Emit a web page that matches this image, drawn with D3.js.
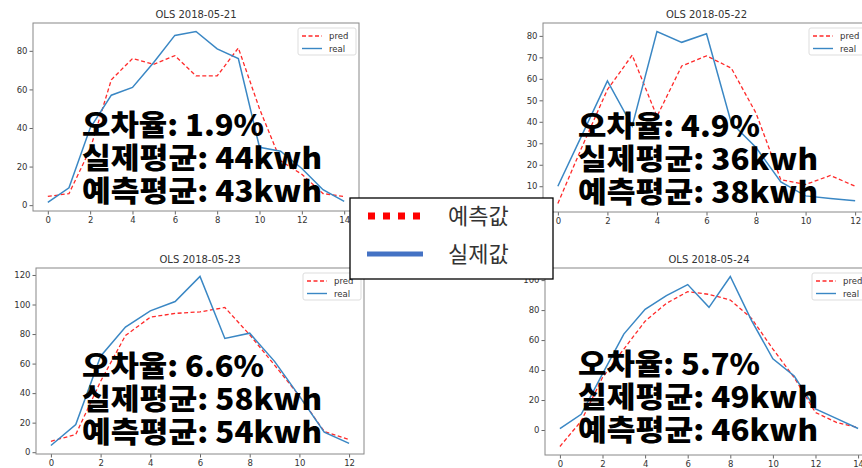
<!DOCTYPE html>
<html>
<head>
<meta charset="utf-8">
<script src="https://cdn.jsdelivr.net/npm/d3@7"></script>
<style>
  body { margin: 0; background: #fff; }
  svg { display: block; }
</style>
</head>
<body>
<svg width="862" height="468"></svg>
<script>
// ---- data ----
const titles = ['OLS 2018-05-21', 'OLS 2018-05-22', 'OLS 2018-05-23', 'OLS 2018-05-24'];

const real21 = [1.4, 9, 40, 57, 61, 74, 88, 90, 81, 76, 30, 28, 19, 8, 2];
const pred21 = [4.5, 6, 29, 65, 76, 73, 77.5, 67, 67, 81.5, 50, 23, 16, 6, 4.5];

const real22 = [10, 34.5, 59, 38, 82, 77, 81, 39.5, 28, 12, 5.5, 4.3, 3.2];
const pred22 = [2, 29, 55, 71, 42.5, 66, 70.7, 65, 44, 13, 10.8, 15, 10];

const real23 = [4.5, 18.7, 65, 84.7, 95.7, 102, 119, 77, 80.6, 61.5, 38, 13.5, 6];
const pred23 = [7.4, 12, 48, 79, 91.4, 94, 95, 98, 79.5, 59, 38, 14, 8.5];

const real24 = [1, 10.5, 37.4, 64, 80.5, 89.6, 97, 81.8, 102.4, 73, 47.5, 36, 14, 7.6, 1];
const pred24 = [-11, 6, 35, 54, 72.6, 84.5, 92.3, 90.5, 86.7, 74.4, 54, 35, 11.7, 5, 1.6];

const errRates = ['1.9%', '4.9%', '6.6%', '5.7%'];
const realAvg = [44, 36, 58, 49];
const predAvg = [43, 38, 54, 46];

const seriesNames = ['pred', 'real'];
const legendLabels = ['예측값', '실제값'];

// ---- layout ----
const svg = d3.select('svg');

const panels = [
  { real: real21, pred: pred21, left: 33,  top: 23,  w: 326, h: 188, yTicks: 5, tx: 82,  ty: 136 },
  { real: real22, pred: pred22, left: 543, top: 23,  w: 327, h: 189, yTicks: 10, tx: 578, ty: 137 },
  { real: real23, pred: pred23, left: 36,  top: 268, w: 328, h: 186, yTicks: 6, tx: 82,  ty: 377 },
  { real: real24, pred: pred24, left: 545, top: 268, w: 328, h: 187, yTicks: 5, tx: 578, ty: 375 }
];

const realColor = '#3a87c4';
const predColor = '#ff2a2a';
const tickFont = 'DejaVu Sans, sans-serif';
const noteWidths = [182, 240, 240];

const drawPanel = (p, i) => {
  const n = p.real.length - 1;
  const x = d3.scaleLinear().domain([-0.05 * n, n * 1.05]).range([0, p.w]);
  const all = p.real.concat(p.pred);
  const [lo, hi] = d3.extent(all);
  const pad = (hi - lo) * 0.05;
  const y = d3.scaleLinear().domain([lo - pad, hi + pad]).range([p.h, 0]);

  const g = svg.append('g').attr('transform', `translate(${p.left},${p.top})`);

  g.append('text')
    .attr('x', p.w / 2)
    .attr('y', -5)
    .attr('text-anchor', 'middle')
    .attr('font-family', tickFont)
    .attr('font-size', 10)
    .attr('fill', '#333')
    .text(titles[i]);

  const xAxis = g.append('g')
    .attr('transform', `translate(0,${p.h})`)
    .call(d3.axisBottom(x).tickValues(d3.range(0, n + 1, 2)).tickSize(3.5).tickPadding(2));
  const yAxis = g.append('g')
    .call(d3.axisLeft(y).ticks(p.yTicks).tickSize(3.5).tickPadding(2));
  [xAxis, yAxis].forEach(a => {
    a.select('.domain').remove();
    a.selectAll('line').attr('stroke', '#666');
    a.selectAll('text').attr('font-family', tickFont).attr('font-size', 8.5).attr('fill', '#333');
  });

  g.append('rect')
    .attr('width', p.w).attr('height', p.h)
    .attr('fill', 'none').attr('stroke', '#888').attr('stroke-width', 1);

  const line = d3.line().x((d, j) => x(j)).y(d => y(d));

  g.append('path').datum(p.pred)
    .attr('d', line).attr('fill', 'none')
    .attr('stroke', predColor).attr('stroke-width', 1.3).attr('stroke-dasharray', '4,2.5');
  g.append('path').datum(p.real)
    .attr('d', line).attr('fill', 'none')
    .attr('stroke', realColor).attr('stroke-width', 1.5);

  // small legend, upper right
  const lg = g.append('g').attr('transform', `translate(${p.w - 61},5)`);
  lg.append('rect').attr('width', 58).attr('height', 27).attr('rx', 2)
    .attr('fill', '#fff').attr('fill-opacity', 0.85).attr('stroke', '#ddd');
  seriesNames.forEach((s, k) => {
    const yy = 8 + k * 12.5;
    lg.append('line').attr('x1', 4).attr('x2', 24).attr('y1', yy).attr('y2', yy)
      .attr('stroke', k === 0 ? predColor : realColor).attr('stroke-width', 1.4)
      .attr('stroke-dasharray', k === 0 ? '4,2.5' : null);
    lg.append('text').attr('x', 31).attr('y', yy + 3)
      .attr('font-family', tickFont).attr('font-size', 8.5).attr('fill', '#333').text(s);
  });

  // big annotation
  const lines = [
    `오차율: ${errRates[i]}`,
    `실제평균: ${realAvg[i]}kwh`,
    `예측평균: ${predAvg[i]}kwh`
  ];
  svg.append('g').selectAll('text').data(lines).join('text')
    .attr('x', p.tx)
    .attr('y', (d, k) => p.ty + k * 33)
    .attr('font-family', '"Noto Sans CJK KR", sans-serif')
    .attr('font-weight', 900)
    .attr('font-size', 29)
    .attr('textLength', (d, k) => noteWidths[k])
    .attr('lengthAdjust', 'spacingAndGlyphs')
    .attr('fill', '#000')
    .text(d => d);
};

panels.forEach(drawPanel);

// ---- big figure legend in the middle ----
const big = svg.append('g').attr('transform', 'translate(350,198)');
big.append('rect').attr('width', 203).attr('height', 81)
  .attr('fill', '#fff').attr('stroke', '#000').attr('stroke-width', 1.3);
big.append('line').attr('x1', 18).attr('x2', 72).attr('y1', 18).attr('y2', 18)
  .attr('stroke', '#ff0000').attr('stroke-width', 7).attr('stroke-dasharray', '7,8');
big.append('line').attr('x1', 17).attr('x2', 73).attr('y1', 56).attr('y2', 56)
  .attr('stroke', '#4472c4').attr('stroke-width', 5);
big.selectAll('text.lab').data(legendLabels).join('text')
  .attr('class', 'lab')
  .attr('x', 98)
  .attr('y', (d, k) => 26 + k * 38)
  .attr('font-family', '"Noto Sans CJK KR", sans-serif')
  .attr('font-size', 22)
  .attr('fill', '#333')
  .text(d => d);
</script>
</body>
</html>
